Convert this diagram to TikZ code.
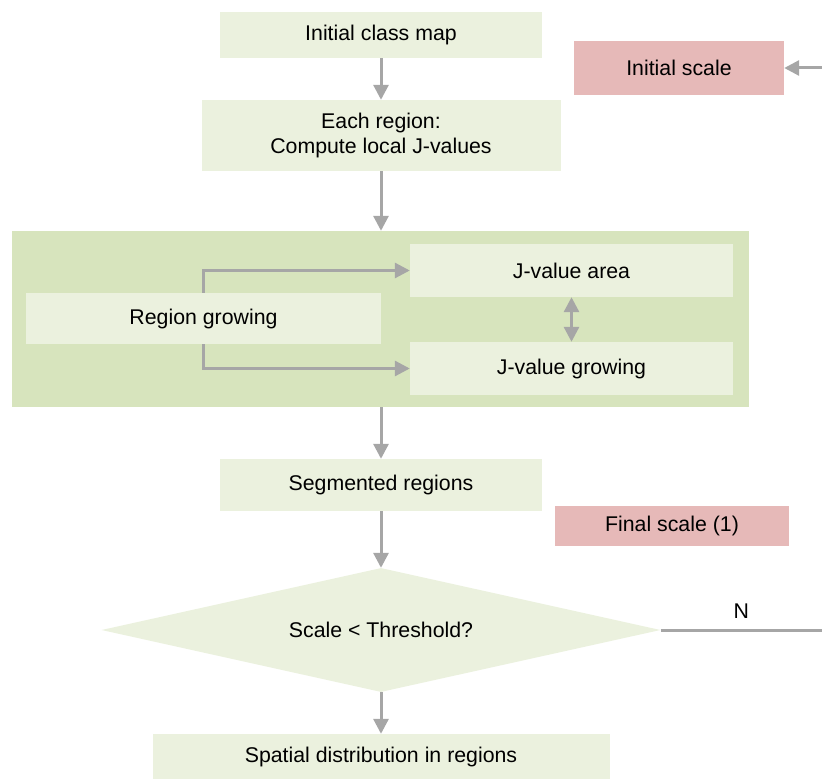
\documentclass[tikz,border=0pt]{standalone}
\usepackage{fontspec}
\setmainfont{Liberation Sans}
\usetikzlibrary{arrows.meta,shapes.geometric}
\definecolor{lightolive}{HTML}{EBF1DE}
\definecolor{midolive}{HTML}{D7E4BD}
\definecolor{rosebox}{HTML}{E6B9B8}
\definecolor{flowgray}{HTML}{A6A6A6}
\tikzset{box/.style = {fill=lightolive, inner sep=0pt, align=center,
    font=\fontsize{21.3}{24.5}\selectfont},
  scalebox/.style = {box, fill=rosebox},
  flow/.style = {draw=flowgray, line width=3pt, -{Triangle[width=15pt,length=15pt]}},
  twoway/.style = {flow, {Triangle[width=15pt,length=15pt]}-{Triangle[width=15pt,length=15pt]}}}

\begin{document}
\begin{tikzpicture}[x=1pt, y=-1pt]
  \useasboundingbox (0,0) rectangle (822,781);
  \node[fill=midolive, inner sep=0pt, minimum width=737pt, minimum height=176pt] (stage) at (380.5,319) {};
  \node[box, minimum width=322pt, minimum height=46pt] (classmap) at (381,35) {Initial class map};
  \node[box, minimum width=359pt, minimum height=71pt] (regions) at (381,135.5) {Each region:\\Compute local J-values};
  \node[box, minimum width=355pt, minimum height=51pt] (grow) at (203.5,318.5) {Region growing};
  \node[box, minimum width=323pt, minimum height=53pt] (area) at (571.5,270.5) {J-value area};
  \node[box, minimum width=323pt, minimum height=53pt] (jgrow) at (571.5,368.5) {J-value growing};
  \node[box, minimum width=322pt, minimum height=52pt] (segm) at (381,485) {Segmented regions};
  \node[box, diamond, aspect=4.5, minimum width=559pt, minimum height=124pt] (test) at (381,630) {Scale < Threshold?};
  \node[box, minimum width=457pt, minimum height=45pt] (spatial) at (381,756.5) {Spatial distribution in regions};
  \node[scalebox, minimum width=210pt, minimum height=54pt] (initscale) at (679,68) {Initial scale};
  \node[scalebox, minimum width=234pt, minimum height=40pt] (finalscale) at (672,526) {Final scale (1)};
  \coordinate (inR) at (822,68);
  \coordinate (outR) at (822,630);

  \draw[flow] (classmap) -- (regions);
  \draw[flow] (regions) -- (regions.south |- stage.north);
  \draw[flow] (grow.north) |- (area.west);
  \draw[flow] (grow.south) |- (jgrow.west);
  \draw[twoway] (area) -- (jgrow);
  \draw[flow] (stage.south -| segm.north) -- (segm);
  \draw[flow] (segm) -- (test);
  \draw[flow] (test) -- (spatial);
  \draw[flow] (inR) -- (initscale);
  \draw[flow, -] (test.east) -- node[above=7pt, font=\fontsize{21.3}{24.5}\selectfont] (nlabel) {N} (outR);
\end{tikzpicture}
\end{document}
